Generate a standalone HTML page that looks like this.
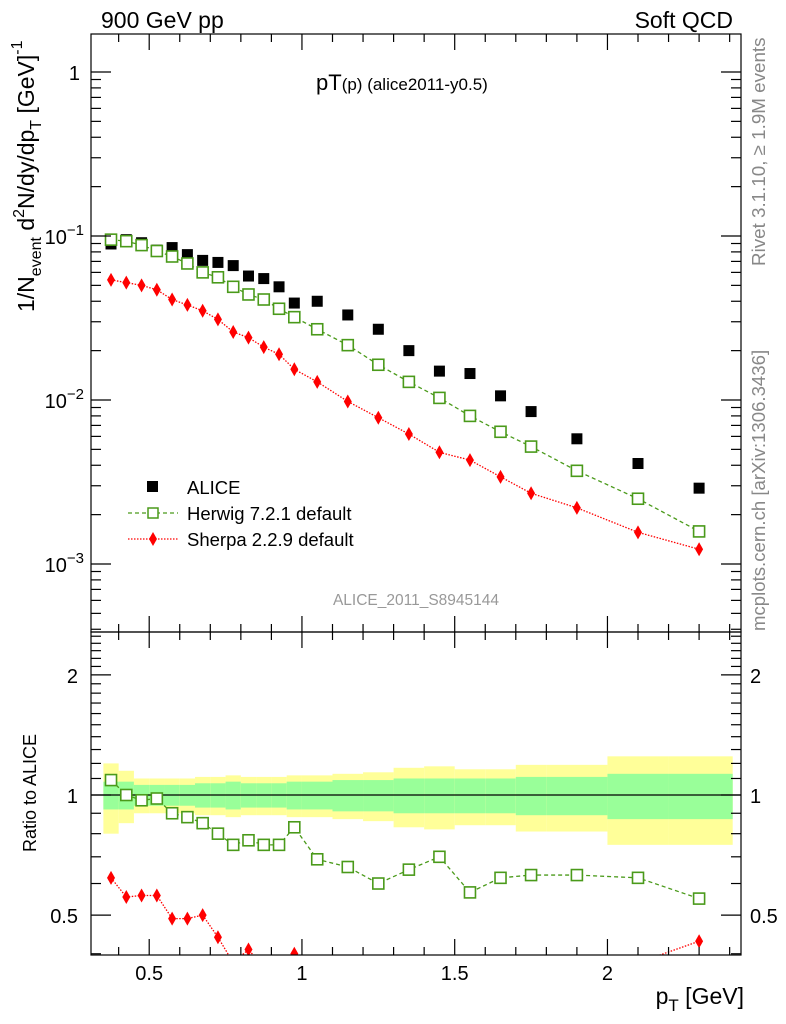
<!DOCTYPE html>
<html><head><meta charset="utf-8"><style>
html,body{margin:0;padding:0;background:#fff}
svg{display:block;font-family:"Liberation Sans",sans-serif}
</style></head><body>
<svg id="chart" width="786" height="1024" viewBox="0 0 786 1024" xmlns="http://www.w3.org/2000/svg">
<defs>
<clipPath id="clipMain"><rect x="91" y="34" width="650" height="598"/></clipPath>
<clipPath id="clipRatio"><rect x="91" y="632" width="650" height="323"/></clipPath>
</defs>
<g id="bands" clip-path="url(#clipRatio)"></g>
<g id="marks"></g>
<rect x="91" y="34" width="650" height="598" fill="none" stroke="#000" stroke-width="1.2"/>
<rect x="91" y="632" width="650" height="323" fill="none" stroke="#000" stroke-width="1.2"/>
<g id="ticks"></g>
<text x="101" y="28" font-size="23">900 GeV pp</text>
<text x="733" y="28" font-size="23" text-anchor="end">Soft QCD</text>
<text x="316" y="90" font-size="22">pT<tspan font-size="17">(p)</tspan><tspan font-size="17"> (alice2011-y0.5)</tspan></text>
<text x="416" y="605" font-size="15.5" fill="#999" text-anchor="middle">ALICE_2011_S8945144</text>
<text transform="translate(765,266) rotate(-90)" font-size="18.8" fill="#888">Rivet 3.1.10, ≥ 1.9M events</text>
<text transform="translate(765,631) rotate(-90)" font-size="18.6" fill="#888">mcplots.cern.ch [arXiv:1306.3436]</text>
<text transform="translate(34,312) rotate(-90)" font-size="23">1/N<tspan font-size="16" dy="7">event</tspan><tspan dy="-7"> d</tspan><tspan font-size="16" dy="-10">2</tspan><tspan dy="10">N/dy/dp</tspan><tspan font-size="16" dy="7">T</tspan><tspan dy="-7">  [GeV]</tspan><tspan font-size="16" dy="-12">-1</tspan></text>
<text transform="translate(36,852) rotate(-90)" font-size="18">Ratio to ALICE</text>
<text x="744" y="1004" font-size="23" text-anchor="end">p<tspan font-size="17" dy="7">T</tspan><tspan dy="-7"> [GeV]</tspan></text>
<g>
<rect x="147" y="481" width="11" height="11" fill="#000"/>
<text x="187" y="494" font-size="18.5">ALICE</text>
<line x1="128" y1="513" x2="178" y2="513" stroke="#4a9a1a" stroke-dasharray="4,3" stroke-width="1.3"/>
<rect x="148" y="508" width="10" height="10" fill="#fff" stroke="#4a9a1a" stroke-width="1.5"/>
<text x="187" y="520" font-size="18.5">Herwig 7.2.1 default</text>
<line x1="128" y1="539" x2="178" y2="539" stroke="#f00" stroke-dasharray="1.5,1.5" stroke-width="1.3"/>
<path d="M153 532 L157 539 L153 546 L149 539 Z" fill="#f00"/>
<text x="187" y="546" font-size="18.5">Sherpa 2.2.9 default</text>
</g>
</svg>
<script>
const binLo=[0.35,0.4,0.45,0.5,0.55,0.6,0.65,0.7,0.75,0.8,0.85,0.9,0.95,1.0,1.1,1.2,1.3,1.4,1.5,1.6,1.7,1.8,2.0,2.2];
const binHi=[0.4,0.45,0.5,0.55,0.6,0.65,0.7,0.75,0.8,0.85,0.9,0.95,1.0,1.1,1.2,1.3,1.4,1.5,1.6,1.7,1.8,2.0,2.2,2.41];
const ptValues=[0.375,0.425,0.475,0.525,0.575,0.625,0.675,0.725,0.775,0.825,0.875,0.925,0.975,1.05,1.15,1.25,1.35,1.45,1.55,1.65,1.75,1.9,2.1,2.3];
const aliceValues=[0.0894,0.095,0.091,0.082,0.085,0.077,0.071,0.069,0.066,0.057,0.055,0.049,0.039,0.040,0.033,0.027,0.020,0.015,0.0145,0.0106,0.0085,0.0058,0.0041,0.0029];
const herwigValues=[0.095,0.093,0.088,0.081,0.075,0.068,0.060,0.056,0.049,0.044,0.041,0.036,0.032,0.027,0.0216,0.0164,0.0129,0.0103,0.0080,0.0064,0.0052,0.0037,0.0025,0.00158];
const sherpaValues=[0.054,0.052,0.050,0.047,0.041,0.038,0.035,0.031,0.026,0.024,0.021,0.019,0.0154,0.0129,0.0098,0.0078,0.0062,0.0048,0.0043,0.0034,0.0027,0.0022,0.00156,0.00123];
const herwigRatio=[1.09,1.0,0.97,0.98,0.90,0.88,0.85,0.80,0.75,0.77,0.75,0.75,0.83,0.69,0.66,0.60,0.65,0.70,0.57,0.62,0.63,0.63,0.62,0.55];
const sherpaRatio=[0.62,0.555,0.56,0.56,0.49,0.49,0.50,0.44,0.38,0.41,0.37,0.36,0.40,0.33,0.30,0.29,0.31,0.32,0.30,0.32,0.32,0.36,0.38,0.43];
const yellowErr=[0.2,0.15,0.1,0.1,0.1,0.1,0.11,0.11,0.12,0.11,0.11,0.11,0.12,0.12,0.13,0.14,0.17,0.18,0.16,0.16,0.19,0.19,0.25,0.25];
const greenErr=[0.08,0.08,0.06,0.06,0.06,0.06,0.07,0.07,0.08,0.07,0.07,0.07,0.08,0.08,0.09,0.09,0.1,0.1,0.1,0.1,0.11,0.11,0.13,0.13];
const xTickLabels=["0.5","1","1.5","2"];
const ratioTickLabels=["0.5","1","2"];

const NS="http://www.w3.org/2000/svg";
const X=v=>149.2+(v-0.5)*305.5;
const Y=v=>72-164*Math.log10(v);
const R=v=>795-399*Math.log10(v);
function mk(tag,attrs,parent){const e=document.createElementNS(NS,tag);for(const k in attrs)e.setAttribute(k,attrs[k]);parent.appendChild(e);return e;}
const bands=document.getElementById('bands'),marks=document.getElementById('marks'),ticks=document.getElementById('ticks');

binLo.forEach((lo,i)=>{
 const y=mk('rect',{x:X(lo),width:X(binHi[i])-X(lo),y:R(1+yellowErr[i]),height:R(1-yellowErr[i])-R(1+yellowErr[i]),fill:'#ffff99'},bands);
 
 
 const g=mk('rect',{x:X(lo),width:X(binHi[i])-X(lo),y:R(1+greenErr[i]),height:R(1-greenErr[i])-R(1+greenErr[i]),fill:'#99ff99'},bands);
 
 
});
const one=mk('line',{x1:91,x2:741,y1:R(1),y2:R(1),stroke:'#000','stroke-width':1.2},bands);



const gm=mk('g',{'clip-path':'url(#clipMain)'},marks);
const gr=mk('g',{'clip-path':'url(#clipRatio)'},marks);
function line(vals,yf,par,stroke,dash,name){
 const p=mk('polyline',{points:vals.map((v,i)=>X(ptValues[i])+','+yf(v)).join(' '),fill:'none',stroke:stroke,'stroke-dasharray':dash,'stroke-width':1.3},par);
 
 
}
function sq(v,i,yf,par,name){
 const r=mk('rect',{x:X(ptValues[i])-5.5,y:yf(v)-5.5,width:11,height:11,fill:'#fff',stroke:'#4a9a1a','stroke-width':1.6},par);
 
 
}
function dia(v,i,yf,par,name){
 const x=X(ptValues[i]),y=yf(v);
 const d=mk('path',{d:`M${x} ${y-7}L${x+4} ${y}L${x} ${y+7}L${x-4} ${y}Z`,fill:'#f00'},par);
 
 
}
line(herwigValues,Y,gm,'#4a9a1a','4,3','herwig-line');
line(sherpaValues,Y,gm,'#f00','1.5,1.5','sherpa-line');
line(herwigRatio,R,gr,'#4a9a1a','4,3','herwig-ratio-line');
line(sherpaRatio,R,gr,'#f00','1.5,1.5','sherpa-ratio-line');
aliceValues.forEach((v,i)=>{
 const r=mk('rect',{x:X(ptValues[i])-5.5,y:Y(v)-5.5,width:11,height:11,fill:'#000'},gm);
 
 
});
herwigValues.forEach((v,i)=>sq(v,i,Y,gm,'herwig-point'));
sherpaValues.forEach((v,i)=>dia(v,i,Y,gm,'sherpa-point'));
herwigRatio.forEach((v,i)=>sq(v,i,R,gr,'herwig-ratio-point'));
sherpaRatio.forEach((v,i)=>dia(v,i,R,gr,'sherpa-ratio-point'));

const tk=(x1,y1,x2,y2)=>mk('line',{x1,y1,x2,y2,stroke:'#000','stroke-width':1.2},ticks);
for(let k=4;k<=24;k++){const v=k/10,x=X(v);if(x<91||x>741)continue;const major=(k%5===0);const L=major?16:8;
 [[34,1],[632,-1],[632,1],[955,-1]].forEach(([y,s])=>tk(x,y,x,y+s*L));}
xTickLabels.forEach(t=>{const e=mk('text',{x:X(parseFloat(t)),y:980,'font-size':20,'text-anchor':'middle'},ticks);e.textContent=t;
 });
for(let d=-4;d<=0;d++)for(let m=1;m<=9;m++){const v=m*Math.pow(10,d),y=Y(v);if(y<34||y>632)continue;const L=m===1?20:10;tk(91,y,91+L,y);tk(741,y,741-L,y);}
[["10","−1",0.1],["10","−2",0.01],["10","−3",0.001]].forEach(([b,e,v])=>{const t=mk('text',{x:84,y:Y(v)+8,'font-size':20,'text-anchor':'end'},ticks);
 t.innerHTML=b+'<tspan font-size="15" dy="-9">'+e+'</tspan>';});
const l1=mk('text',{x:80,y:Y(1)+8,'font-size':20,'text-anchor':'end'},ticks);l1.textContent='1';

for(let k=4;k<=25;k++){const v=k/10,y=R(v);if(y<632||y>955)continue;const major=(k===5||k===10||k===20);const L=major?20:10;tk(91,y,91+L,y);tk(741,y,741-L,y);}
ratioTickLabels.forEach(t=>{const v=parseFloat(t);
 const a=mk('text',{x:78,y:R(v)+8,'font-size':20,'text-anchor':'end'},ticks);a.textContent=t;
 
 const b=mk('text',{x:750,y:R(v)+8,'font-size':20},ticks);b.textContent=t;
 });
</script>
</body></html>
